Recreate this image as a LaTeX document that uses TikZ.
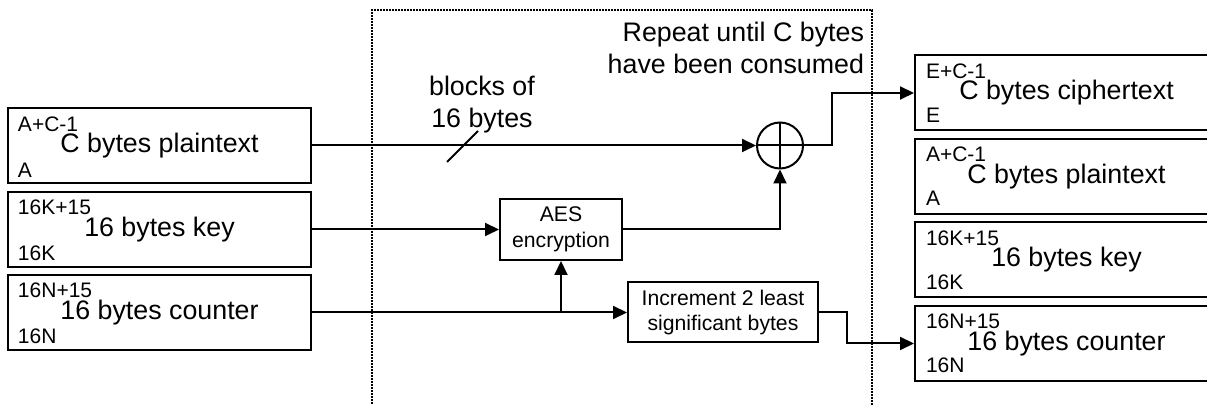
\documentclass[tikz,border=0pt]{standalone}
\usepackage{fontspec}
\setmainfont{Liberation Sans}
\usetikzlibrary{arrows.meta}

\begin{document}
\begin{tikzpicture}[x=0.5pt, y=-0.5pt, >={Triangle[length=7pt,width=6.5pt]}, line width=1pt,
    membox/.style={draw, rectangle, minimum width=151.5pt, minimum height=37.5pt, inner sep=0pt, font=\fontsize{13.4}{16}\selectfont},
    addr/.style={inner sep=0pt, font=\fontsize{10.5}{12.6}\selectfont},
    opbox/.style={draw, rectangle, align=center, inner sep=0pt, font=\fontsize{10.6}{12.8}\selectfont},
    note/.style={inner sep=0pt, font=\fontsize{13.4}{15.8}\selectfont}]
    \useasboundingbox (0,0) rectangle (1207,405);
    \clip (0,0) rectangle (1207,405);

    % 1. 循环区域 (虚线框)
    \draw[line width=0.9pt, dash pattern=on 0.8pt off 0.7pt] (372,410) -- (372,10) -- (872,10) -- (872,410);
    \node[note, anchor=north east, align=right] (rpt) at (865,21) {Repeat until C bytes\\have been consumed};

    % 2. 输入存储块
    \node[membox] (pin) at (159.5,145.5) {C bytes plaintext};
    \node[addr, anchor=north west] (pinhi) at ([shift={(5pt,-4.5pt)}]pin.north west) {A+C-1};
    \node[addr, anchor=base west] (pinlo) at ([shift={(5pt,3.2pt)}]pin.south west) {A};
    \node[membox] (key) at (159.5,229.5) {16 bytes key};
    \node[addr, anchor=north west] (keyhi) at ([shift={(5pt,-3.8pt)}]key.north west) {16K+15};
    \node[addr, anchor=base west] (keylo) at ([shift={(5pt,3.5pt)}]key.south west) {16K};
    \node[membox] (ctr) at (159.5,312.5) {16 bytes counter};
    \node[addr, anchor=north west] (ctrhi) at ([shift={(5pt,-3.8pt)}]ctr.north west) {16N+15};
    \node[addr, anchor=base west] (ctrlo) at ([shift={(5pt,3.5pt)}]ctr.south west) {16N};

    % 3. 输出存储块
    \node[membox] (cout) at (1066.5,93) {C bytes ciphertext};
    \node[addr, anchor=north west] (couthi) at ([shift={(5.5pt,-4pt)}]cout.north west) {E+C-1};
    \node[addr, anchor=base west] (coutlo) at ([shift={(5.5pt,4.5pt)}]cout.south west) {E};
    \node[membox] (pout) at (1066.5,176.5) {C bytes plaintext};
    \node[addr, anchor=north west] (pouthi) at ([shift={(5.5pt,-4pt)}]pout.north west) {A+C-1};
    \node[addr, anchor=base west] (poutlo) at ([shift={(5.5pt,4.5pt)}]pout.south west) {A};
    \node[membox] (kout) at (1066.5,260) {16 bytes key};
    \node[addr, anchor=north west] (kouthi) at ([shift={(5.5pt,-4pt)}]kout.north west) {16K+15};
    \node[addr, anchor=base west] (koutlo) at ([shift={(5.5pt,4.5pt)}]kout.south west) {16K};
    \node[membox] (nout) at (1066.5,343.5) {16 bytes counter};
    \node[addr, anchor=north west] (nouthi) at ([shift={(5.5pt,-4pt)}]nout.north west) {16N+15};
    \node[addr, anchor=base west] (noutlo) at ([shift={(5.5pt,4.5pt)}]nout.south west) {16N};

    % 4. 运算单元
    \node[opbox, minimum width=61pt, minimum height=30.5pt] (aes) at (561,229.5) {AES\\encryption};
    \node[opbox, minimum width=95pt, minimum height=30pt] (inc) at (723,312.5) {Increment 2 least\\significant bytes};
    \node[draw, circle, minimum size=23pt, inner sep=0pt,
        path picture={\draw (path picture bounding box.north) -- (path picture bounding box.south)
            (path picture bounding box.west) -- (path picture bounding box.east);}] (xor) at (780,145.5) {};

    % 5. 连线
    \draw[->] (pin.east) -- (xor.west);
    \node[note, anchor=north, align=center] (blk) at (482,75) {blocks of\\16 bytes};
    \draw (447,162) -- (478,131);
    \draw[->] (key.east) -- (aes.west);
    \draw[->] (aes.east) -| (xor.south);
    \draw[->] (xor.east) -- ++(28,0) |- (cout.west);
    \coordinate (split) at (aes.south |- ctr.east);
    \draw[->] (ctr.east) -- (inc.west);
    \draw[->] (split) -- (aes.south);
    \draw[->] (inc.east) -- ++(28,0) |- (nout.west);
\end{tikzpicture}
\end{document}
